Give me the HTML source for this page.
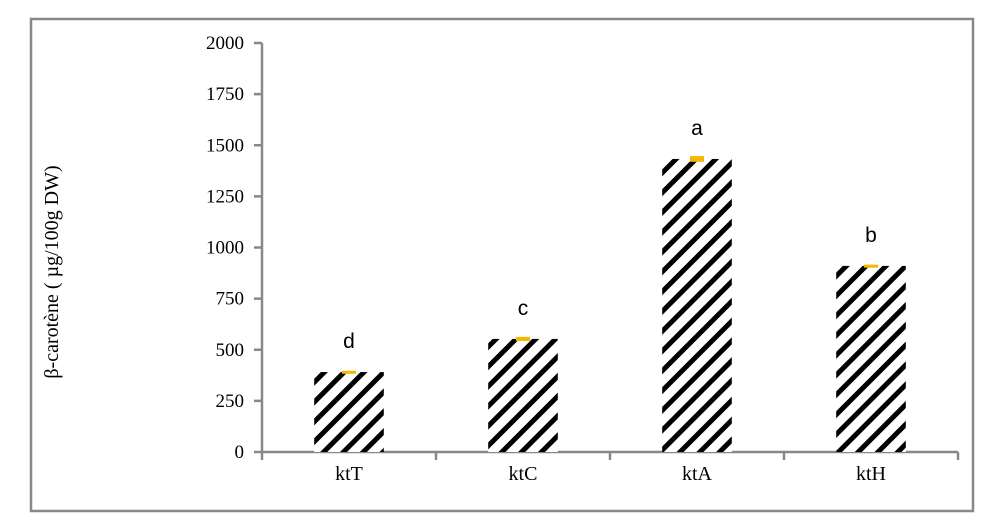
<!DOCTYPE html>
<html><head><meta charset="utf-8"><style>
body{margin:0;background:#fff;}
svg{display:block;}
text{font-family:"Liberation Serif",serif;}
</style></head><body>
<svg width="983" height="531">
<defs>
<pattern id="stripes" patternUnits="userSpaceOnUse" width="14" height="14" patternTransform="rotate(-45)">
<rect x="0" y="0" width="14" height="14" fill="#fff"/>
<rect x="0" y="0" width="14" height="5" fill="#000"/>
</pattern>
</defs>
<rect x="31" y="19" width="942" height="492" fill="#fff" stroke="#888" stroke-width="2.5"/>
<text transform="translate(58,272) rotate(-90)" text-anchor="middle" font-size="20">β-carotène ( µg/100g DW)</text>
<g id="axes"></g>
<g id="bars"></g>
</svg>
<script>
const categories = ["ktT","ktC","ktA","ktH"];
const values = [391, 553, 1433, 910];
const errors = [6, 10, 14, 6];
const letters = ["d","c","a","b"];
const yTicks = [0,250,500,750,1000,1250,1500,1750,2000];
const NS="http://www.w3.org/2000/svg";
const x0=262, x1=958, y0=452, y2000=43;
const band=(x1-x0)/categories.length;
function y(v){return y0-(v/2000)*(y0-y2000);}
function xc(i){return x0+band*(i+0.5);}
function mk(tag,attrs,parent){const e=document.createElementNS(NS,tag);for(const k in attrs)e.setAttribute(k,attrs[k]);parent.appendChild(e);return e;}
const axes=document.getElementById('axes'), bars=document.getElementById('bars');
yTicks.forEach(t=>{
  const l=mk('line',{x1:x0-8,x2:x0,y1:y(t),y2:y(t),stroke:'#888','stroke-width':2.5},axes);
  
  
  const tx=mk('text',{x:x0-18,y:y(t)+6,'text-anchor':'end','font-size':19},axes);
  tx.textContent=t;
  
  
});
categories.forEach((c,i)=>{
  const bw=band*0.4, v=values[i];
  const r=mk('rect',{x:xc(i)-bw/2,y:y(v),width:bw,height:y0-y(v),fill:'url(#stripes)'},bars);
  
  
  const e=mk('rect',{x:xc(i)-7,y:y(v+errors[i]),width:14,height:Math.max(3,y(v-errors[i])-y(v+errors[i])),fill:'#f5b800'},bars);
  
  
  const lt=mk('text',{x:xc(i),y:y(v)-24,'text-anchor':'middle','font-size':21,'font-family':'Liberation Sans, sans-serif'},bars);
  lt.setAttribute('font-family','Liberation Sans, sans-serif');
  lt.style.fontFamily='"Liberation Sans",sans-serif';
  lt.textContent=letters[i];
  
  
  const xl=mk('text',{x:xc(i),y:y0+28,'text-anchor':'middle','font-size':20},axes);
  xl.textContent=c;
  
  
});
for(let i=0;i<=categories.length;i++){
  const t=mk('line',{x1:x0+band*i,x2:x0+band*i,y1:y0,y2:y0+8,stroke:'#888','stroke-width':2.5},axes);
  
  
}
const ya=mk('line',{x1:x0,x2:x0,y1:y2000,y2:y0,stroke:'#888','stroke-width':2.5},axes);


const xa=mk('line',{x1:x0,x2:x1,y1:y0,y2:y0,stroke:'#888','stroke-width':2.5},axes);


</script>
</body></html>
